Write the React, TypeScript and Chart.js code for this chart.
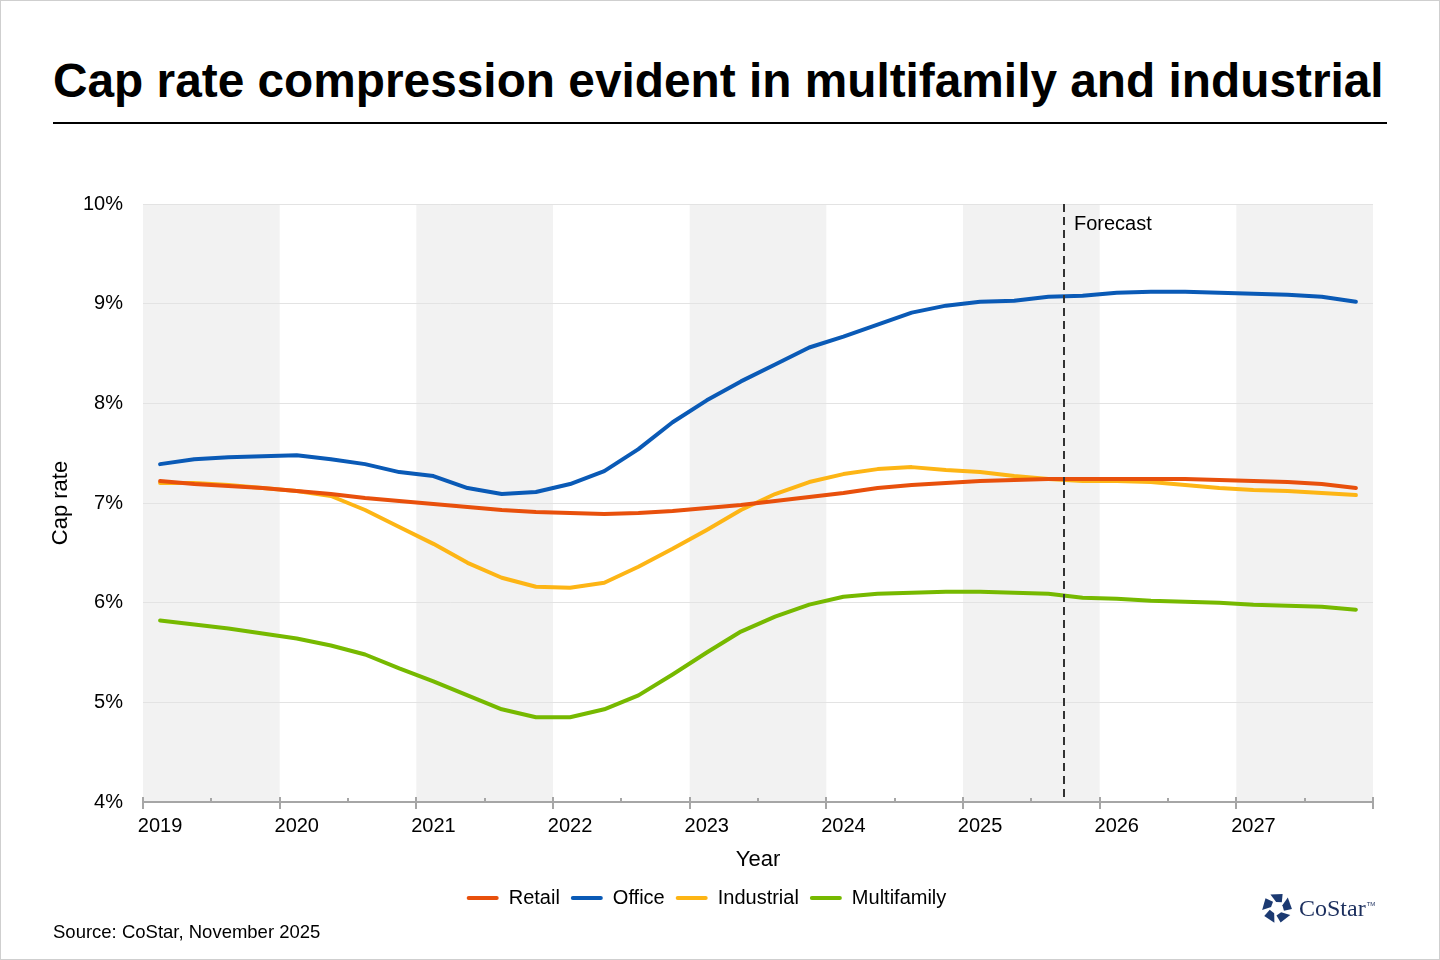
import React, { useEffect, useRef } from "react";
import { Chart, registerables } from "chart.js";

Chart.register(...registerables);

const FONT = '"Liberation Sans", Arial, Helvetica, sans-serif';

const years = [2019, 2020, 2021, 2022, 2023, 2024, 2025, 2026, 2027];
const quarters = ["Q1", "Q2", "Q3", "Q4"];
const categories = years.flatMap((y) => quarters.map((q) => `${y} ${q}`));
const forecastStart = "2025 Q4";

const retail = [
  7.22, 7.19, 7.17, 7.15, 7.12, 7.09, 7.05, 7.02, 6.99, 6.96, 6.93, 6.91,
  6.9, 6.89, 6.9, 6.92, 6.95, 6.98, 7.02, 7.06, 7.1, 7.15, 7.18, 7.2,
  7.22, 7.23, 7.24, 7.24, 7.24, 7.24, 7.24, 7.23, 7.22, 7.21, 7.19, 7.15,
];
const office = [
  7.39, 7.44, 7.46, 7.47, 7.48, 7.44, 7.39, 7.31, 7.27, 7.15, 7.09, 7.11,
  7.19, 7.32, 7.54, 7.81, 8.03, 8.22, 8.39, 8.56, 8.67, 8.79, 8.91, 8.98,
  9.02, 9.03, 9.07, 9.08, 9.11, 9.12, 9.12, 9.11, 9.1, 9.09, 9.07, 9.02,
];
const industrial = [
  7.2, 7.2, 7.18, 7.15, 7.12, 7.07, 6.93, 6.76, 6.59, 6.4, 6.25, 6.16,
  6.15, 6.2, 6.36, 6.54, 6.73, 6.93, 7.09, 7.21, 7.29, 7.34, 7.36, 7.33,
  7.31, 7.27, 7.24, 7.22, 7.22, 7.21, 7.18, 7.15, 7.13, 7.12, 7.1, 7.08,
];
const multifamily = [
  5.82, 5.78, 5.74, 5.69, 5.64, 5.57, 5.48, 5.34, 5.21, 5.07, 4.93, 4.85,
  4.85, 4.93, 5.07, 5.28, 5.5, 5.71, 5.86, 5.98, 6.06, 6.09, 6.1, 6.11,
  6.11, 6.1, 6.09, 6.05, 6.04, 6.02, 6.01, 6.0, 5.98, 5.97, 5.96, 5.93,
];

const seriesNames = ["Retail", "Office", "Industrial", "Multifamily"];
const seriesColors = ["#E8500C", "#0A5AB6", "#FDB515", "#76B900"];
const seriesValues = [retail, office, industrial, multifamily];

const yMin = 4;
const yMax = 10;
const yStep = 1;

const decorPlugin = {
  id: "decor",
  beforeDraw(chart: any) {
    const { ctx, chartArea: a, scales } = chart;
    const x = scales.x;
    ctx.save();
    ctx.fillStyle = "#f2f2f2";
    years.forEach((_y, yi) => {
      if (yi % 2 !== 0) return;
      const l = x.getPixelForValue(yi * 4 - 0.5);
      const r = x.getPixelForValue(yi * 4 + 3.5);
      ctx.fillRect(l, a.top, r - l, a.bottom - a.top);
    });
    ctx.restore();
  },
  afterDatasetsDraw(chart: any) {
    const { ctx, chartArea: a, scales } = chart;
    const x = scales.x;
    ctx.save();
    ctx.strokeStyle = "#a6a6a6";
    ctx.lineWidth = 2;
    ctx.beginPath();
    for (let k = 0; k <= categories.length; k += 2) {
      const px = Math.round(x.getPixelForValue(k - 0.5));
      const major = k % 4 === 0;
      ctx.moveTo(px, a.bottom - (major ? 5 : 4));
      ctx.lineTo(px, a.bottom + (major ? 7 : 0));
    }
    ctx.stroke();
    const idx = categories.indexOf(forecastStart);
    const fx = Math.round(x.getPixelForValue(idx - 0.5)) - 2;
    ctx.strokeStyle = "#333333";
    ctx.lineWidth = 2;
    ctx.setLineDash([8, 5]);
    ctx.beginPath();
    ctx.moveTo(fx, a.top);
    ctx.lineTo(fx, a.bottom - 4);
    ctx.stroke();
    ctx.setLineDash([]);
    ctx.fillStyle = "#000";
    ctx.font = `20px ${FONT}`;
    ctx.textBaseline = "middle";
    ctx.textAlign = "left";
    ctx.fillText("Forecast", fx + 10, a.top + 20);
    ctx.restore();
  },
};

function Logo() {
  const cx = 16;
  const cy = 16;
  const pieces = [0, 1, 2, 3, 4].map((k) => {
    const base = -90 + k * 72;
    const pt = (deg: number, r: number) => {
      const t = (deg * Math.PI) / 180;
      return `${(cx + r * Math.cos(t)).toFixed(2)},${(cy + r * Math.sin(t)).toFixed(2)}`;
    };
    return [pt(base - 26, 15), pt(base + 22, 15), pt(base + 40, 7.5), pt(base - 8, 6)].join(" ");
  });
  return (
    <div
      style={{
        position: "absolute",
        left: 1260,
        top: 890,
        height: 34,
        display: "flex",
        alignItems: "center",
        color: "#1c2f5e",
      }}
    >
      <svg width={32} height={32} viewBox="0 0 32 32">
        {pieces.map((p, i) => (
          <polygon key={i} points={p} fill="#1c3a72" />
        ))}
      </svg>
      <span
        style={{
          fontFamily: '"Liberation Serif", "Times New Roman", serif',
          fontSize: 24,
          marginLeft: 6,
          lineHeight: 1,
        }}
      >
        CoStar
      </span>
      <span
        style={{
          fontFamily: FONT,
          fontSize: 6,
          alignSelf: "flex-start",
          marginTop: 10,
          marginLeft: 1,
        }}
      >
        TM
      </span>
    </div>
  );
}

export default function App() {
  const canvasRef = useRef<HTMLCanvasElement | null>(null);

  useEffect(() => {
    if (!canvasRef.current) return;
    Chart.defaults.font.family = FONT;
    const chart = new Chart(canvasRef.current, {
      type: "line",
      data: {
        labels: categories,
        datasets: seriesNames.map((name, i) => ({
          label: name,
          data: seriesValues[i],
          borderColor: seriesColors[i],
          backgroundColor: seriesColors[i],
          borderWidth: 4,
          borderCapStyle: "round",
          borderJoinStyle: "round",
          pointRadius: 0,
          pointHoverRadius: 0,
          tension: 0,
          fill: false,
        })),
      },
      options: {
        responsive: false,
        animation: false,
        events: [],
        layout: { padding: { top: 53, left: 39, right: 68, bottom: 23 } },
        plugins: {
          tooltip: { enabled: false },
          title: { display: false },
          legend: {
            display: true,
            position: "bottom",
            labels: {
              font: { size: 20, family: FONT },
              color: "#000",
              boxWidth: 32,
              boxHeight: 4,
              padding: 11,
              generateLabels: (c: any) =>
                c.data.datasets.map((ds: any, i: number) => ({
                  text: ds.label,
                  fillStyle: ds.borderColor,
                  strokeStyle: ds.borderColor,
                  lineWidth: 0,
                  borderRadius: 2,
                  hidden: false,
                  datasetIndex: i,
                  fontColor: "#000",
                })),
            },
          },
        },
        scales: {
          x: {
            type: "category",
            offset: true,
            grid: { display: false, offset: true, drawTicks: false },
            border: { display: true, color: "#a6a6a6", width: 2 },
            ticks: {
              autoSkip: false,
              maxRotation: 0,
              minRotation: 0,
              padding: 12,
              color: "#000",
              font: { size: 20, family: FONT },
              callback: (_v: any, idx: number) =>
                idx % 4 === 0 ? categories[idx].split(" ")[0] : "",
            },
            title: {
              display: true,
              text: "Year",
              color: "#000",
              font: { size: 22, family: FONT },
              padding: { top: 8, bottom: 4 },
            },
            afterFit: (s: any) => {
              s.height = 75;
            },
          },
          y: {
            min: yMin,
            max: yMax,
            border: { display: false },
            grid: { color: "#e3e3e3", lineWidth: 1, drawTicks: false },
            ticks: {
              stepSize: yStep,
              padding: 20,
              color: "#000",
              font: { size: 20, family: FONT },
              callback: (v: any) => `${v}%`,
            },
            title: {
              display: true,
              text: "Cap rate",
              color: "#000",
              font: { size: 22, family: FONT },
              padding: { top: 8, bottom: 0 },
            },
            afterFit: (s: any) => {
              s.width = 103;
            },
          },
        },
      },
      plugins: [decorPlugin],
    } as any);
    return () => chart.destroy();
  }, []);

  return (
    <div
      style={{
        position: "absolute",
        left: 0,
        top: 0,
        width: 1440,
        height: 960,
        background: "#fff",
        border: "1px solid #cfcfcf",
        boxSizing: "border-box",
        overflow: "hidden",
        fontFamily: FONT,
      }}
    >
      <div
        style={{
          position: "absolute",
          left: 52,
          top: 53,
          fontSize: 47.8,
          fontWeight: 700,
          lineHeight: 1.15,
          color: "#000",
          whiteSpace: "nowrap",
        }}
      >
        Cap rate compression evident in multifamily and industrial
      </div>
      <div
        style={{
          position: "absolute",
          left: 52,
          top: 121,
          width: 1334,
          height: 2,
          background: "#000",
        }}
      />
      <div style={{ position: "absolute", left: 0, top: 150, width: 1440, height: 790 }}>
        <canvas ref={canvasRef} width={1440} height={790} style={{ display: "block" }} />
      </div>
      <div
        style={{
          position: "absolute",
          left: 52,
          top: 920,
          fontSize: 18.5,
          lineHeight: 1.15,
          color: "#000",
          whiteSpace: "nowrap",
        }}
      >
        Source: CoStar, November 2025
      </div>
      <Logo />
    </div>
  );
}
